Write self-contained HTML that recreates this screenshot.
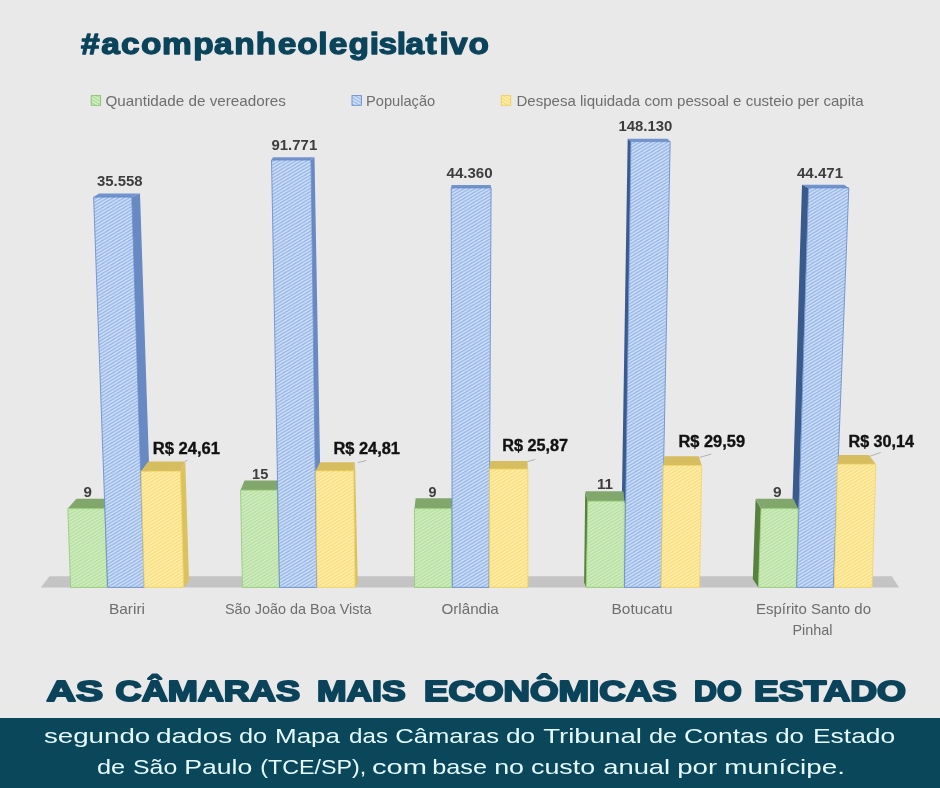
<!DOCTYPE html>
<html lang="pt-BR">
<head>
<meta charset="utf-8">
<title>As câmaras mais econômicas do estado</title>
<style>
html,body{margin:0;padding:0;background:#e9e9e9;}
body{width:940px;height:788px;overflow:hidden;font-family:"Liberation Sans",sans-serif;}
svg{display:block;}
svg text{font-family:"Liberation Sans",sans-serif;}
</style>
</head>
<body>
<svg width="940" height="788" viewBox="0 0 940 788">
<defs><pattern id="hg" width="5" height="3" patternUnits="userSpaceOnUse" patternTransform="scale(1.1)"><rect width="5" height="3" fill="#b6de9f"/><path d="M-5,3 L5,-3 M-5,6 L10,-3 M0,6 L10,0" stroke="#d3efc4" stroke-width="1.25" fill="none"/></pattern><pattern id="hb" width="5" height="3" patternUnits="userSpaceOnUse" patternTransform="scale(1.1)"><rect width="5" height="3" fill="#96b5e5"/><path d="M-5,3 L5,-3 M-5,6 L10,-3 M0,6 L10,0" stroke="#d3e3fa" stroke-width="1.25" fill="none"/></pattern><pattern id="hy" width="5" height="3" patternUnits="userSpaceOnUse" patternTransform="scale(1.1)"><rect width="5" height="3" fill="#f8dd7e"/><path d="M-5,3 L5,-3 M-5,6 L10,-3 M0,6 L10,0" stroke="#fff0ae" stroke-width="1.25" fill="none"/></pattern><pattern id="lg" width="5" height="3" patternUnits="userSpaceOnUse" patternTransform="scale(-1.1,1.1)"><rect width="5" height="3" fill="#b0da98"/><path d="M-5,3 L5,-3 M-5,6 L10,-3 M0,6 L10,0" stroke="#d6f3c8" stroke-width="1.3" fill="none"/></pattern><pattern id="lb" width="5" height="3" patternUnits="userSpaceOnUse" patternTransform="scale(-1.1,1.1)"><rect width="5" height="3" fill="#9dbae8"/><path d="M-5,3 L5,-3 M-5,6 L10,-3 M0,6 L10,0" stroke="#d6e5fb" stroke-width="1.3" fill="none"/></pattern><pattern id="ly" width="5" height="3" patternUnits="userSpaceOnUse" patternTransform="scale(-1.1,1.1)"><rect width="5" height="3" fill="#f8dd7e"/><path d="M-5,3 L5,-3 M-5,6 L10,-3 M0,6 L10,0" stroke="#fff0ae" stroke-width="1.3" fill="none"/></pattern></defs>
<rect width="940" height="788" fill="#e9e9e9"/>
<rect x="0" y="718" width="940" height="70" fill="#0b475b"/>
<g id="chart">
<polygon points="40.8,587.4 49.5,576.3 891.8,576.3 899.1,587.4" fill="#c4c4c4"/>
<polygon points="67.8,508.6 76.4,498.7 110.0,498.7 104.9,508.6" fill="#82a76c"/>
<polygon points="67.8,508.6 104.9,508.6 107.2,587.4 70.6,587.4" fill="url(#hg)" stroke="#8fc970" stroke-width="0.8" stroke-linejoin="round"/>
<polygon points="131.8,197.1 140.0,193.4 152.8,577.0 144.3,587.4" fill="#6989c3"/>
<polygon points="93.6,197.1 99.0,193.4 140.0,193.4 131.8,197.1" fill="#7393cc"/>
<polygon points="93.6,197.1 131.8,197.1 144.3,587.4 107.7,587.4" fill="url(#hb)" stroke="#6088ca" stroke-width="0.8" stroke-linejoin="round"/>
<polygon points="180.4,471.3 185.3,461.6 189.0,581.0 183.6,587.4" fill="#dcc15f"/>
<polygon points="141.1,471.3 148.2,461.6 185.3,461.6 180.4,471.3" fill="#d6bd60"/>
<polygon points="141.1,471.3 180.4,471.3 183.6,587.4 144.3,587.4" fill="url(#hy)" stroke="#f2d360" stroke-width="0.8" stroke-linejoin="round"/>
<polygon points="240.6,490.1 244.5,480.4 282.0,480.4 277.3,490.1" fill="#82a76c"/>
<polygon points="240.6,490.1 277.3,490.1 279.5,587.4 242.4,587.4" fill="url(#hg)" stroke="#8fc970" stroke-width="0.8" stroke-linejoin="round"/>
<polygon points="311.0,160.0 314.5,157.2 322.2,582.0 316.8,587.4" fill="#6989c3"/>
<polygon points="271.5,160.0 273.0,157.2 314.5,157.2 311.0,160.0" fill="#7393cc"/>
<polygon points="271.5,160.0 311.0,160.0 316.8,587.4 279.5,587.4" fill="url(#hb)" stroke="#6088ca" stroke-width="0.8" stroke-linejoin="round"/>
<polygon points="353.5,470.9 355.0,462.2 357.8,582.4 355.0,587.4" fill="#dcc15f"/>
<polygon points="315.7,470.9 319.9,462.2 355.0,462.2 353.5,470.9" fill="#d6bd60"/>
<polygon points="315.7,470.9 353.5,470.9 355.0,587.4 317.2,587.4" fill="url(#hy)" stroke="#f2d360" stroke-width="0.8" stroke-linejoin="round"/>
<polygon points="414.5,508.6 415.6,498.3 453.0,498.3 451.6,508.6" fill="#82a76c"/>
<polygon points="414.5,508.6 451.6,508.6 452.3,587.4 414.5,587.4" fill="url(#hg)" stroke="#8fc970" stroke-width="0.8" stroke-linejoin="round"/>
<polygon points="451.2,187.9 451.5,184.9 490.8,184.9 491.1,187.9" fill="#7393cc"/>
<polygon points="451.2,187.9 491.1,187.9 489.0,587.4 452.3,587.4" fill="url(#hb)" stroke="#6088ca" stroke-width="0.8" stroke-linejoin="round"/>
<polygon points="489.6,469.1 490.0,460.9 527.4,460.9 527.8,469.1" fill="#d6bd60"/>
<polygon points="489.6,469.1 527.8,469.1 527.8,587.4 489.6,587.4" fill="url(#hy)" stroke="#f2d360" stroke-width="0.8" stroke-linejoin="round"/>
<polygon points="630.9,141.6 627.7,138.8 621.8,503.0 625.7,503.0" fill="#3b5a8c"/>
<polygon points="587.8,501.1 585.2,491.8 584.1,582.4 586.2,587.4" fill="#58803f"/>
<polygon points="587.8,501.1 585.2,491.3 623.4,491.3 624.4,501.1" fill="#82a76c"/>
<polygon points="587.8,501.1 624.4,501.1 624.4,587.4 586.2,587.4" fill="url(#hg)" stroke="#8fc970" stroke-width="0.8" stroke-linejoin="round"/>
<polygon points="630.9,141.6 627.7,138.8 667.6,138.8 670.2,141.6" fill="#7393cc"/>
<polygon points="630.9,141.6 670.2,141.6 661.1,587.4 624.4,587.4" fill="url(#hb)" stroke="#6088ca" stroke-width="0.8" stroke-linejoin="round"/>
<polygon points="663.3,465.5 664.3,456.2 698.9,456.2 701.7,465.5" fill="#d6bd60"/>
<polygon points="663.3,465.5 701.7,465.5 699.5,587.4 661.1,587.4" fill="url(#hy)" stroke="#f2d360" stroke-width="0.8" stroke-linejoin="round"/>
<polygon points="808.5,187.9 802.0,184.7 792.2,510.0 798.6,510.0" fill="#3b5a8c"/>
<polygon points="761.0,508.6 755.6,499.3 752.8,579.0 758.4,587.4" fill="#58803f"/>
<polygon points="761.0,508.6 755.6,498.7 793.4,498.7 798.1,508.6" fill="#82a76c"/>
<polygon points="761.0,508.6 798.1,508.6 796.6,587.4 758.4,587.4" fill="url(#hg)" stroke="#8fc970" stroke-width="0.8" stroke-linejoin="round"/>
<polygon points="808.5,187.9 802.0,184.7 844.1,184.7 848.8,187.9" fill="#7393cc"/>
<polygon points="808.5,187.9 848.8,187.9 833.3,587.4 796.6,587.4" fill="url(#hb)" stroke="#6088ca" stroke-width="0.8" stroke-linejoin="round"/>
<polygon points="837.6,464.2 838.7,455.1 868.9,455.1 875.8,464.2" fill="#d6bd60"/>
<polygon points="837.6,464.2 875.8,464.2 872.1,587.4 834.3,587.4" fill="url(#hy)" stroke="#f2d360" stroke-width="0.8" stroke-linejoin="round"/>
<line x1="357.8" y1="462.7" x2="366.4" y2="460.5" stroke="#9a9a9a" stroke-width="0.7"/>
<line x1="527.4" y1="461.6" x2="535.3" y2="459.4" stroke="#9a9a9a" stroke-width="0.7"/>
<line x1="700" y1="457.3" x2="711.4" y2="454" stroke="#9a9a9a" stroke-width="0.7"/>
<line x1="870" y1="456.2" x2="880.7" y2="452.5" stroke="#9a9a9a" stroke-width="0.7"/>
<line x1="185" y1="461.2" x2="187.5" y2="460.3" stroke="#9a9a9a" stroke-width="0.7"/>
</g>
<g id="legend"><rect x="91.2" y="95.6" width="9.4" height="9.7" fill="url(#lg)" stroke="#8ebf76" stroke-width="0.9"/><rect x="352" y="95.6" width="9.4" height="9.7" fill="url(#lb)" stroke="#6a8fca" stroke-width="0.9"/><rect x="501.3" y="95.6" width="9.4" height="9.7" fill="url(#ly)" stroke="#efcf5c" stroke-width="0.9"/></g>
<g id="labels">
<text transform="scale(1.1303,1)" x="71.63 89.57 107.12 124.81 143.37 170.95 189.32 207.35 226.31 245.82 263.09 281.57 290.77 308.41 327.13 334.93 351.06 358.87 376.55 388.92 397.28 414.59" y="53.6" font-size="29.6" font-weight="bold" fill="#0b445a" stroke="#0b445a" stroke-width="1.3" stroke-linejoin="round">#acompanheolegislativo</text>
<text x="105.4" y="105.5" font-size="14.6" font-weight="normal" fill="#6e6e6e" textLength="180.6" lengthAdjust="spacingAndGlyphs">Quantidade de vereadores</text>
<text x="366.0" y="105.5" font-size="14.6" font-weight="normal" fill="#6e6e6e" textLength="69.2" lengthAdjust="spacingAndGlyphs">População</text>
<text x="516.4" y="105.5" font-size="14.6" font-weight="normal" fill="#6e6e6e" textLength="347.2" lengthAdjust="spacingAndGlyphs">Despesa liquidada com pessoal e custeio per capita</text>
<text x="96.9" y="186.3" font-size="15" font-weight="bold" fill="#3d3d3d" textLength="45.7" lengthAdjust="spacingAndGlyphs">35.558</text>
<text x="271.5" y="149.8" font-size="15" font-weight="bold" fill="#3d3d3d" textLength="45.7" lengthAdjust="spacingAndGlyphs">91.771</text>
<text x="446.5" y="177.6" font-size="15" font-weight="bold" fill="#3d3d3d" textLength="46.1" lengthAdjust="spacingAndGlyphs">44.360</text>
<text x="618.4" y="131.1" font-size="15" font-weight="bold" fill="#3d3d3d" textLength="53.9" lengthAdjust="spacingAndGlyphs">148.130</text>
<text x="797.0" y="177.6" font-size="15" font-weight="bold" fill="#3d3d3d" textLength="46.0" lengthAdjust="spacingAndGlyphs">44.471</text>
<text x="83.5" y="496.5" font-size="15" font-weight="bold" fill="#3d3d3d" textLength="8.4" lengthAdjust="spacingAndGlyphs">9</text>
<text x="252.1" y="478.6" font-size="15" font-weight="bold" fill="#3d3d3d" textLength="16.2" lengthAdjust="spacingAndGlyphs">15</text>
<text x="428.5" y="496.5" font-size="15" font-weight="bold" fill="#3d3d3d" textLength="8.0" lengthAdjust="spacingAndGlyphs">9</text>
<text x="597.0" y="489.4" font-size="15" font-weight="bold" fill="#3d3d3d" textLength="16.0" lengthAdjust="spacingAndGlyphs">11</text>
<text x="772.9" y="496.5" font-size="15" font-weight="bold" fill="#3d3d3d" textLength="8.6" lengthAdjust="spacingAndGlyphs">9</text>
<text x="152.8" y="453.6" font-size="16" font-weight="bold" fill="#111" textLength="67.2" lengthAdjust="spacingAndGlyphs" stroke="#111" stroke-width="0.35">R$ 24,61</text>
<text x="333.4" y="453.6" font-size="16" font-weight="bold" fill="#111" textLength="66.6" lengthAdjust="spacingAndGlyphs" stroke="#111" stroke-width="0.35">R$ 24,81</text>
<text x="502.3" y="451.2" font-size="16" font-weight="bold" fill="#111" textLength="65.8" lengthAdjust="spacingAndGlyphs" stroke="#111" stroke-width="0.35">R$ 25,87</text>
<text x="678.5" y="446.5" font-size="16" font-weight="bold" fill="#111" textLength="66.5" lengthAdjust="spacingAndGlyphs" stroke="#111" stroke-width="0.35">R$ 29,59</text>
<text x="848.5" y="446.5" font-size="16" font-weight="bold" fill="#111" textLength="65.5" lengthAdjust="spacingAndGlyphs" stroke="#111" stroke-width="0.35">R$ 30,14</text>
<text x="109.0" y="613.5" font-size="14.8" font-weight="normal" fill="#6e6e6e" textLength="36.0" lengthAdjust="spacingAndGlyphs">Bariri</text>
<text x="225.0" y="613.5" font-size="14.8" font-weight="normal" fill="#6e6e6e" textLength="146.5" lengthAdjust="spacingAndGlyphs">São João da Boa Vista</text>
<text x="441.5" y="613.5" font-size="14.8" font-weight="normal" fill="#6e6e6e" textLength="57.3" lengthAdjust="spacingAndGlyphs">Orlândia</text>
<text x="611.5" y="613.5" font-size="14.8" font-weight="normal" fill="#6e6e6e" textLength="61.0" lengthAdjust="spacingAndGlyphs">Botucatu</text>
<text x="756.0" y="613.5" font-size="14.8" font-weight="normal" fill="#6e6e6e" textLength="115.0" lengthAdjust="spacingAndGlyphs">Espírito Santo do</text>
<text x="792.5" y="635.0" font-size="14.8" font-weight="normal" fill="#6e6e6e" textLength="40.0" lengthAdjust="spacingAndGlyphs">Pinhal</text>
<text x="46.6" y="700.8" font-size="29.0" font-weight="bold" fill="#0b445a" textLength="56.4" lengthAdjust="spacingAndGlyphs" stroke="#0b445a" stroke-width="2" stroke-linejoin="round">AS</text>
<text x="115.6" y="700.8" font-size="29.0" font-weight="bold" fill="#0b445a" textLength="184.4" lengthAdjust="spacingAndGlyphs" stroke="#0b445a" stroke-width="2" stroke-linejoin="round">CÂMARAS</text>
<text x="317.0" y="700.8" font-size="29.0" font-weight="bold" fill="#0b445a" textLength="88.6" lengthAdjust="spacingAndGlyphs" stroke="#0b445a" stroke-width="2" stroke-linejoin="round">MAIS</text>
<text x="424.0" y="700.8" font-size="29.0" font-weight="bold" fill="#0b445a" textLength="252.6" lengthAdjust="spacingAndGlyphs" stroke="#0b445a" stroke-width="2" stroke-linejoin="round">ECONÔMICAS</text>
<text x="694.0" y="700.8" font-size="29.0" font-weight="bold" fill="#0b445a" textLength="47.6" lengthAdjust="spacingAndGlyphs" stroke="#0b445a" stroke-width="2" stroke-linejoin="round">DO</text>
<text x="754.0" y="700.8" font-size="29.0" font-weight="bold" fill="#0b445a" textLength="152.0" lengthAdjust="spacingAndGlyphs" stroke="#0b445a" stroke-width="2" stroke-linejoin="round">ESTADO</text>
<text x="44.0" y="743.0" font-size="21" font-weight="normal" fill="#e6fbff" textLength="106.2" lengthAdjust="spacingAndGlyphs">segundo</text>
<text x="156.0" y="743.0" font-size="21" font-weight="normal" fill="#e6fbff" textLength="76.2" lengthAdjust="spacingAndGlyphs">dados</text>
<text x="239.0" y="743.0" font-size="21" font-weight="normal" fill="#e6fbff" textLength="28.2" lengthAdjust="spacingAndGlyphs">do</text>
<text x="275.0" y="743.0" font-size="21" font-weight="normal" fill="#e6fbff" textLength="65.0" lengthAdjust="spacingAndGlyphs">Mapa</text>
<text x="349.0" y="743.0" font-size="21" font-weight="normal" fill="#e6fbff" textLength="39.0" lengthAdjust="spacingAndGlyphs">das</text>
<text x="395.2" y="743.0" font-size="21" font-weight="normal" fill="#e6fbff" textLength="103.8" lengthAdjust="spacingAndGlyphs">Câmaras</text>
<text x="506.0" y="743.0" font-size="21" font-weight="normal" fill="#e6fbff" textLength="29.2" lengthAdjust="spacingAndGlyphs">do</text>
<text x="543.2" y="743.0" font-size="21" font-weight="normal" fill="#e6fbff" textLength="98.8" lengthAdjust="spacingAndGlyphs">Tribunal</text>
<text x="649.0" y="743.0" font-size="21" font-weight="normal" fill="#e6fbff" textLength="28.2" lengthAdjust="spacingAndGlyphs">de</text>
<text x="684.0" y="743.0" font-size="21" font-weight="normal" fill="#e6fbff" textLength="84.0" lengthAdjust="spacingAndGlyphs">Contas</text>
<text x="775.2" y="743.0" font-size="21" font-weight="normal" fill="#e6fbff" textLength="28.8" lengthAdjust="spacingAndGlyphs">do</text>
<text x="813.0" y="743.0" font-size="21" font-weight="normal" fill="#e6fbff" textLength="82.2" lengthAdjust="spacingAndGlyphs">Estado</text>
<text x="97.0" y="774.2" font-size="21" font-weight="normal" fill="#e6fbff" textLength="28.2" lengthAdjust="spacingAndGlyphs">de</text>
<text x="133.0" y="774.2" font-size="21" font-weight="normal" fill="#e6fbff" textLength="44.2" lengthAdjust="spacingAndGlyphs">São</text>
<text x="184.2" y="774.2" font-size="21" font-weight="normal" fill="#e6fbff" textLength="68.0" lengthAdjust="spacingAndGlyphs">Paulo</text>
<text x="260.2" y="774.2" font-size="21" font-weight="normal" fill="#e6fbff" textLength="106.0" lengthAdjust="spacingAndGlyphs">(TCE/SP),</text>
<text x="372.0" y="774.2" font-size="21" font-weight="normal" fill="#e6fbff" textLength="55.0" lengthAdjust="spacingAndGlyphs">com</text>
<text x="432.2" y="774.2" font-size="21" font-weight="normal" fill="#e6fbff" textLength="54.8" lengthAdjust="spacingAndGlyphs">base</text>
<text x="494.2" y="774.2" font-size="21" font-weight="normal" fill="#e6fbff" textLength="29.8" lengthAdjust="spacingAndGlyphs">no</text>
<text x="531.0" y="774.2" font-size="21" font-weight="normal" fill="#e6fbff" textLength="64.2" lengthAdjust="spacingAndGlyphs">custo</text>
<text x="603.2" y="774.2" font-size="21" font-weight="normal" fill="#e6fbff" textLength="67.0" lengthAdjust="spacingAndGlyphs">anual</text>
<text x="677.2" y="774.2" font-size="21" font-weight="normal" fill="#e6fbff" textLength="40.0" lengthAdjust="spacingAndGlyphs">por</text>
<text x="724.2" y="774.2" font-size="21" font-weight="normal" fill="#e6fbff" textLength="120.8" lengthAdjust="spacingAndGlyphs">munícipe.</text>
</g>
</svg>
</body>
</html>
